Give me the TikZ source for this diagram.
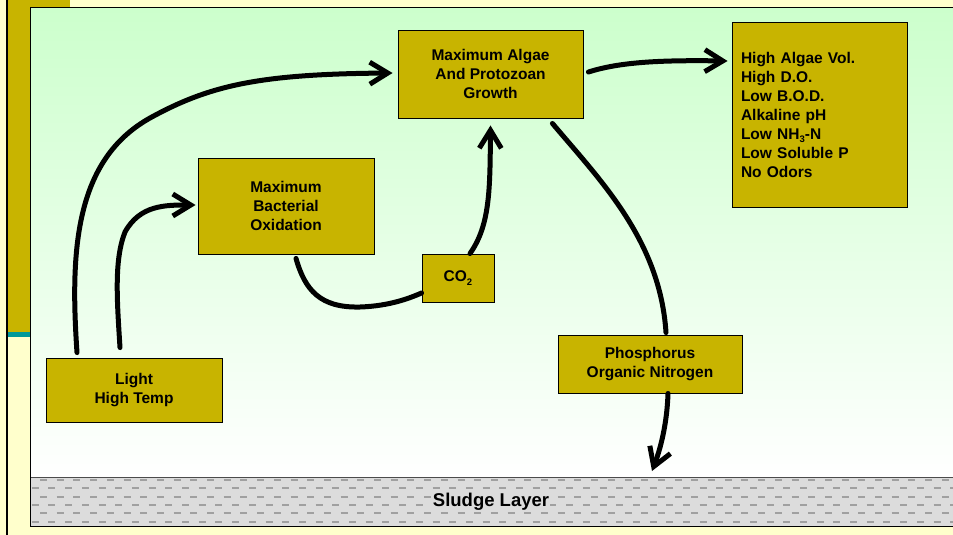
\documentclass[tikz,border=0pt]{standalone}
\usepackage{fontspec}
\setmainfont{Liberation Sans}
\usetikzlibrary{arrows.meta}
\definecolor{bgyellow}{HTML}{FFFFCC}
\definecolor{olivebox}{HTML}{C8B400}
\definecolor{tealline}{HTML}{009999}
\definecolor{topgreen}{HTML}{CCFFCC}
\definecolor{sludgegray}{HTML}{DCDCDC}
\definecolor{dashgray}{HTML}{A0A0A0}
\newcommand\lowsub[1]{\raisebox{-0.4ex}{\fontsize{9.5}{9.5}\selectfont #1}}
\begin{document}
\begin{tikzpicture}[x=1pt,y=-1pt,
  box/.style={draw=black, line width=0.9pt, fill=olivebox, font=\fontsize{15.5}{19}\selectfont\bfseries, align=center, inner sep=0pt},
  flow/.style={line width=5pt, line cap=round, -{Straight Barb[length=18pt,width=22pt]}},
  link/.style={line width=5pt, line cap=round},
  dashrow/.style={dashgray, line width=2pt, dash pattern=on 7pt off 9.7pt}]
\useasboundingbox (0,0) rectangle (953,535);
\fill[bgyellow] (0,0) rectangle (953,535);
\fill[olivebox] (8,0) rectangle (70,332);
\fill[tealline] (8,332) rectangle (30,337);
\draw[line width=2pt] (7,0) -- (7,535);
\shade[top color=topgreen, bottom color=white] (30,8) rectangle (953,477);
\fill[sludgegray] (30,477) rectangle (953,526);
\foreach \k in {0,2,4} {
  \draw[dashrow, dash phase=6.7pt] (30,{480+8.3*\k}) -- (953,{480+8.3*\k});
}
\foreach \k in {1,3,5} {
  \draw[dashrow, dash phase=15pt] (30,{480+8.3*\k}) -- (953,{480+8.3*\k});
}
\draw[black!70, line width=1pt] (30,477) -- (953,477);
\draw[line width=1pt] (953,8) -- (30,8) -- (30,526) -- (953,526);
\node[fill=sludgegray, inner sep=1pt, font=\fontsize{18.5}{20}\selectfont\bfseries] (sludge) at (491,502) {Sludge Layer};

\node[box, minimum width=185pt, minimum height=88pt] (algae) at (490.5,74) {Maximum Algae\\And Protozoan\\Growth};
\node[box, minimum width=175pt, minimum height=185pt, text width=157pt, inner xsep=9pt, align=left] (high) at (819.5,114.5) {High Algae Vol.\\High D.O.\\Low B.O.D.\\Alkaline pH\\Low NH\lowsub{3}-N\\Low Soluble P\\No Odors};
\node[box, minimum width=176pt, minimum height=96pt] (bact) at (286,206) {Maximum\\Bacterial\\Oxidation};
\node[box, minimum width=72pt, minimum height=48pt] (co2) at (458,278) {CO\lowsub{2}};
\node[box, minimum width=184pt, minimum height=58pt] (phos) at (650,364) {Phosphorus\\Organic Nitrogen};
\node[box, minimum width=176pt, minimum height=64pt] (light) at (134,390) {Light\\High Temp};
\coordinate (sink) at (652,471);

\draw[flow] ([xshift=-57pt,yshift=5pt]light.north) .. controls (70,250) and (75,160) .. (150,118) .. controls (210,85) and (260,74) .. ([xshift=-5pt,yshift=1pt]algae.west);
\draw[flow] ([xshift=-14pt,yshift=10pt]light.north) .. controls (117,300) and (114,260) .. (125,232) .. controls (140,205) and (165,205) .. ([xshift=-2pt,yshift=1pt]bact.west);
\draw[link] ([xshift=10pt,yshift=-4pt]bact.south) .. controls (305,290) and (320,308) .. (360,307) .. controls (390,306) and (410,298) .. ([yshift=-15pt]co2.west);
\draw[flow] ([xshift=12pt]co2.north) .. controls (490,225) and (490,190) .. ([yshift=-7pt]algae.south);
\draw[flow] ([xshift=5pt,yshift=2pt]algae.east) .. controls (620,62) and (660,60) .. ([xshift=-4pt,yshift=53.5pt]high.west);
\draw[link] ([xshift=-31pt,yshift=-5pt]algae.south east) .. controls (600,180) and (660,240) .. ([xshift=16pt,yshift=2pt]phos.north);
\draw[flow] ([xshift=18pt]phos.south) .. controls (667,425) and (660,450) .. (sink);
\end{tikzpicture}
\end{document}
